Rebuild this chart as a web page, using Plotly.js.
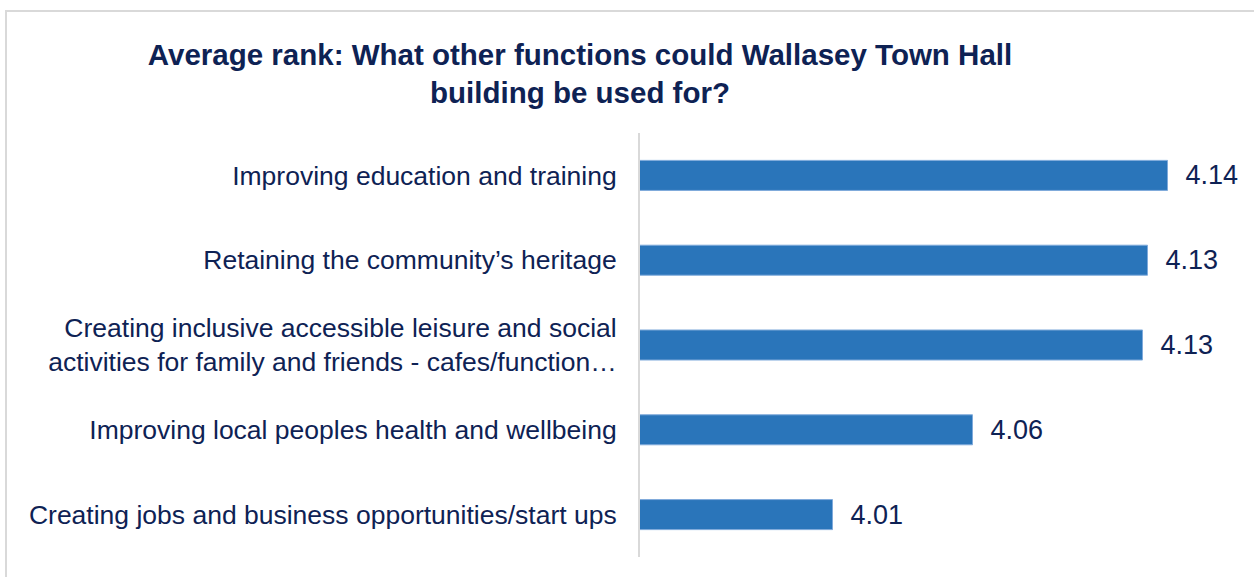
<!DOCTYPE html>
<html>
<head>
<meta charset="utf-8">
<script src="https://cdn.plot.ly/plotly-3.0.1.min.js"></script>
<style>
  html, body { margin: 0; padding: 0; background: #ffffff; }
  #chart { width: 1254px; height: 577px; }
</style>
</head>
<body>
<div id="chart"></div>
<script>
// Categories listed bottom to top (Plotly category order)
const categories = [
  "Creating jobs and business opportunities/start ups",
  "Improving local peoples health and wellbeing",
  "Creating inclusive accessible leisure and social<br>activities for family and friends - cafes/function…",
  "Retaining the community’s heritage",
  "Improving education and training"
];
const averageRank = [4.007, 4.063, 4.131, 4.133, 4.141];
const titleText = "Average rank: What other functions could Wallasey Town Hall<br>building be used for?";

const navy = "#0E2254";
const font = "Liberation Sans, Arial, sans-serif";

// plot area pixels
const L = 640, R = 1250, T = 133, B = 557, W = 1254, H = 577;
const pw = R - L, ph = B - T;

const trace = {
  type: "bar",
  orientation: "h",
  x: averageRank,
  y: categories,
  marker: { color: "#2A75BA", line: { color: "#7FAADB", width: 1 } },
  texttemplate: "\u00a0\u00a0%{x:.2f}",
  textposition: "outside",
  cliponaxis: false,
  textfont: { family: font, size: 27, color: navy },
  hoverinfo: "skip"
};

const layout = {
  width: W, height: H,
  margin: { l: L, r: W - R, t: T, b: H - B, pad: 0 },
  paper_bgcolor: "#ffffff",
  plot_bgcolor: "#ffffff",
  showlegend: false,
  bargap: 0.646,
  title: {
    text: titleText,
    font: { family: font, size: 29.5, color: navy, weight: "bold" },
    xref: "container", x: 580 / W, xanchor: "center",
    yref: "container", y: 1 - 65 / H, yanchor: "middle"
  },
  xaxis: {
    range: [3.93, 3.93 + pw / 2500],
    visible: false,
    showgrid: false,
    zeroline: false,
    fixedrange: true
  },
  yaxis: {
    type: "category",
    showline: true,
    linecolor: "#D9D9D9",
    linewidth: 2,
    showgrid: false,
    zeroline: false,
    ticks: "",
    ticklabelstandoff: 16,
    tickfont: { family: font, size: 26.5, color: navy },
    automargin: false,
    fixedrange: true
  },
  shapes: [{
    type: "rect",
    xref: "paper", yref: "paper",
    x0: (6 - L) / pw, x1: (1270 - L) / pw,
    y0: (B - 590) / ph, y1: (B - 11) / ph,
    line: { color: "#D9D9D9", width: 2 },
    fillcolor: "rgba(0,0,0,0)",
    layer: "below"
  }]
};

Plotly.newPlot("chart", [trace], layout, { staticPlot: true, displayModeBar: false });
</script>
</body>
</html>
